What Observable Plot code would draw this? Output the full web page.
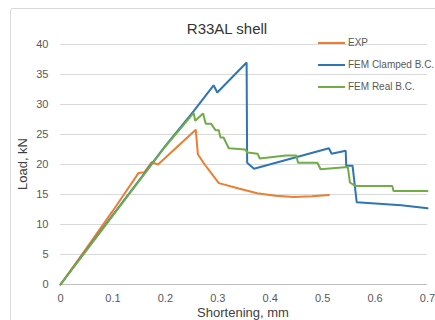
<!DOCTYPE html>
<html><head><meta charset="utf-8">
<script src="https://cdn.jsdelivr.net/npm/d3@7"></script>
<script src="https://cdn.jsdelivr.net/npm/@observablehq/plot@0.6"></script>
<style>
body{margin:0;background:#fff;}
#wrap{position:relative;width:435px;height:320px;overflow:hidden;font-family:"Liberation Sans",Arial,sans-serif;background:#fff;}
#frame{position:absolute;left:10px;top:8px;width:440px;height:330px;border:1px solid #d9d9d9;border-radius:3px;box-sizing:border-box;}
#chart{position:absolute;left:0;top:0;}
.title{position:absolute;left:0;width:454px;top:20px;text-align:center;font-size:15px;color:#333;}
.ylab{position:absolute;left:22px;top:164px;transform:translate(-50%,-50%) rotate(-90deg);font-size:13px;color:#404040;white-space:nowrap;}
.xlab{position:absolute;left:243px;top:306px;transform:translateX(-50%);font-size:13px;line-height:13px;color:#404040;white-space:nowrap;}
.leg{position:absolute;left:318px;font-size:10px;color:#595959;white-space:nowrap;display:flex;align-items:center;}
.leg span.sw{display:inline-block;width:27px;height:2px;margin-right:3px;}
</style></head>
<body>
<div id="wrap">
  <div id="frame"></div>
  <div id="chart"></div>
  <div class="title" id="title"></div>
  <div class="ylab" id="ylab"></div>
  <div class="xlab" id="xlab"></div>
  <div id="legend"></div>
</div>
<script>
const titleText = "R33AL shell";
const xLabel = "Shortening, mm";
const yLabel = "Load, kN";
const seriesNames = ["EXP", "FEM Clamped B.C.", "FEM Real B.C."];
const seriesColors = ["#ED7D31", "#2E75B6", "#70AD47"];

const xTicks = [0, 0.1, 0.2, 0.3, 0.4, 0.5, 0.6, 0.7];
const xTickLabels = ["0", "0.1", "0.2", "0.3", "0.4", "0.5", "0.6", "0.7"];
const yTicks = [0, 5, 10, 15, 20, 25, 30, 35, 40];

const expX = [0, 0.05, 0.10, 0.149, 0.160, 0.174, 0.186, 0.258, 0.262, 0.275, 0.302, 0.34, 0.375, 0.41, 0.445, 0.48, 0.512];
const expY = [0, 6.1, 12.3, 18.6, 18.7, 20.4, 20.0, 25.8, 21.7, 20.0, 16.9, 16.0, 15.2, 14.8, 14.6, 14.7, 14.9];

const clampedX = [0, 0.1, 0.2, 0.254, 0.292, 0.299, 0.355, 0.356, 0.369, 0.512, 0.517, 0.544, 0.545, 0.557, 0.565, 0.65, 0.7];
const clampedY = [0, 11.6, 23.1, 28.9, 33.2, 32.0, 37.0, 20.3, 19.3, 22.7, 21.8, 22.3, 19.8, 19.8, 13.7, 13.2, 12.7];

const realX = [0, 0.1, 0.2, 0.254, 0.257, 0.272, 0.277, 0.287, 0.296, 0.302, 0.305, 0.311, 0.321, 0.352, 0.357, 0.376, 0.38, 0.43, 0.45, 0.453, 0.49, 0.496, 0.548, 0.552, 0.563, 0.633, 0.635, 0.7];
const realY = [0, 11.5, 23.0, 28.6, 27.3, 28.5, 26.8, 26.8, 25.7, 25.7, 24.5, 24.5, 22.7, 22.5, 22.0, 21.8, 21.0, 21.5, 21.5, 20.3, 20.3, 19.2, 19.6, 17.0, 16.4, 16.4, 15.6, 15.6];

const seriesX = [expX, clampedX, realX];
const seriesY = [expY, clampedY, realY];
const rows = [];
seriesNames.forEach((name, i) => {
  seriesX[i].forEach((x, j) => rows.push({series: name, x, y: seriesY[i][j]}));
});

const plot = Plot.plot({
  width: 435,
  height: 320,
  marginLeft: 60,
  marginRight: 8,
  marginTop: 44,
  marginBottom: 36,
  style: {fontFamily: '"Liberation Sans", Arial, sans-serif', fontSize: "11px", color: "#595959", background: "transparent"},
  x: {domain: [0, 0.7]},
  y: {domain: [0, 40]},
  color: {domain: seriesNames, range: seriesColors},
  marks: [
    Plot.gridY(yTicks.filter(d => d > 0), {stroke: "#d9d9d9", strokeOpacity: 1, strokeWidth: 1}),
    Plot.ruleY([0], {stroke: "#bfbfbf", strokeWidth: 1}),
    Plot.axisY({ticks: yTicks, tickSize: 0, tickPadding: 12, label: null, fill: "#595959"}),
    Plot.axisX({ticks: xTicks, tickSize: 0, tickPadding: 10, label: null, fill: "#595959",
      tickFormat: d => xTickLabels[xTicks.findIndex(t => Math.abs(t - d) < 1e-9)]}),
    Plot.line(rows, {x: "x", y: "y", z: "series", stroke: "series", strokeWidth: 2, strokeLinejoin: "miter", curve: "linear"})
  ]
});
document.getElementById("chart").appendChild(plot);
document.getElementById("title").textContent = titleText;
document.getElementById("xlab").textContent = xLabel;
document.getElementById("ylab").textContent = yLabel;
const legTops = [43, 65, 87];
const leg = document.getElementById("legend");
seriesNames.forEach((n, i) => {
  const d = document.createElement("div");
  d.className = "leg";
  d.style.top = (legTops[i] - 6) + "px";
  const sw = document.createElement("span");
  sw.className = "sw";
  sw.style.background = seriesColors[i];
  d.appendChild(sw);
  d.appendChild(document.createTextNode(n));
  leg.appendChild(d);
});
</script>
</body></html>
